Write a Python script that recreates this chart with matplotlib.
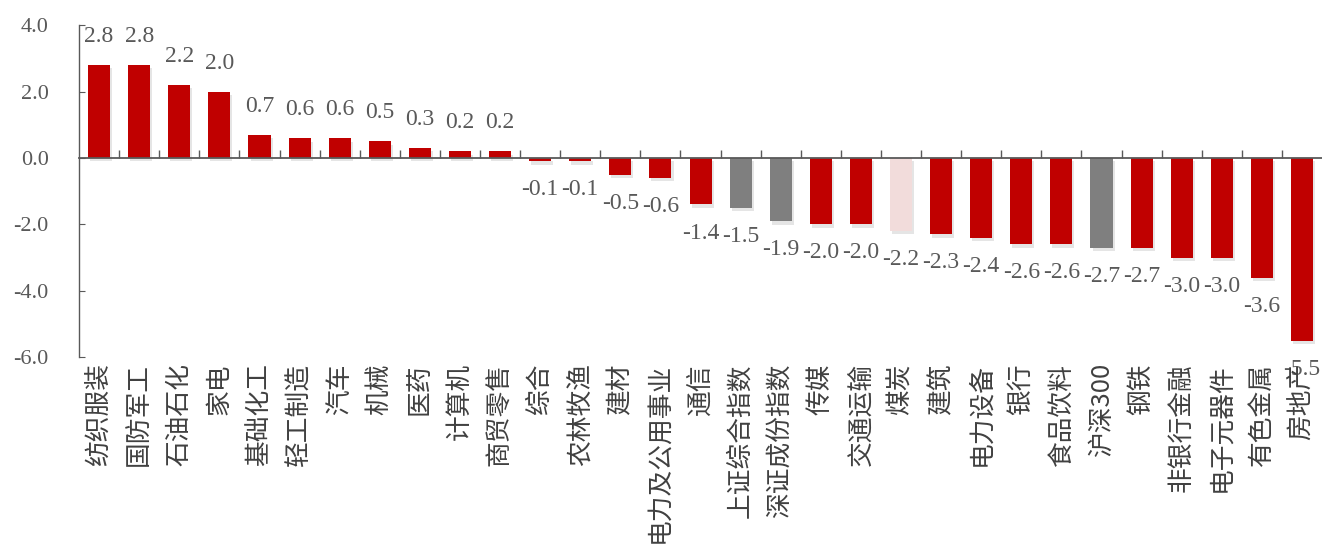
import matplotlib
matplotlib.use("Agg")
import matplotlib.pyplot as plt
import matplotlib.patheffects as pe
from matplotlib.transforms import blended_transform_factory, offset_copy

# weekly change by sector / index, %
names = ["纺织服装", "国防军工", "石油石化", "家电", "基础化工", "轻工制造", "汽车", "机械",
         "医药", "计算机", "商贸零售", "综合", "农林牧渔", "建材", "电力及公用事业", "通信",
         "上证综合指数", "深证成份指数", "传媒", "交通运输", "煤炭", "建筑", "电力设备", "银行",
         "食品饮料", "沪深300", "钢铁", "非银行金融", "电子元器件", "有色金属", "房地产"]
values = [2.8, 2.8, 2.2, 2.0, 0.7, 0.6, 0.6, 0.5, 0.3, 0.2, 0.2, -0.1, -0.1, -0.5, -0.6, -1.4,
          -1.5, -1.9, -2.0, -2.0, -2.2, -2.3, -2.4, -2.6, -2.6, -2.7, -2.7, -3.0, -3.0, -3.6, -5.5]
index_names = ["上证综合指数", "深证成份指数", "沪深300"]
highlight = ["煤炭"]
yticks = [4.0, 2.0, 0.0, -2.0, -4.0, -6.0]

RED = "#C00000"
GRAY = "#7F7F7F"
PINK = "#F2DCDB"
TXT = "#595959"
serif = "Liberation Serif"
cjk = ["Noto Sans CJK SC", "DejaVu Sans"]

colors = []
for n in names:
    if n in index_names:
        colors.append(GRAY)
    elif n in highlight:
        colors.append(PINK)
    else:
        colors.append(RED)

fig = plt.figure(figsize=(13.22, 5.59), dpi=100)
ax = fig.add_axes([0.0598, 0.361, 0.9402, 0.594])

x = list(range(len(names)))
bars = ax.bar(x, values, width=0.55, color=colors, zorder=2)
for b in bars:
    b.set_path_effects([pe.SimplePatchShadow(offset=(1.5, -2.5), shadow_rgbFace="#000000", alpha=0.1),
                        pe.Normal()])

ax.set_xlim(-0.5, len(names) - 0.5)
ax.set_ylim(-6, 4)

# value labels
for xi, v in zip(x, values):
    off = 13 if v >= 0 else -13
    ax.annotate(f"{v:.1f}", (xi, v), xytext=(0, off), textcoords="offset points",
                ha="center", va="bottom" if v >= 0 else "top",
                fontsize=17, color=TXT, family=serif)

# spines
for s in ["top", "right"]:
    ax.spines[s].set_visible(False)
ax.spines["bottom"].set_position(("data", 0))
ax.spines["bottom"].set_color("#595959")
ax.spines["left"].set_color("#595959")
ax.spines["bottom"].set_linewidth(1.3)
ax.spines["left"].set_linewidth(1.0)

ax.set_yticks(yticks)
ax.set_yticklabels([f"{t:.1f}" for t in yticks], family=serif, fontsize=16, color=TXT)
ax.tick_params(axis="y", direction="in", length=4, color="#595959", pad=22)

# category boundaries as ticks on the zero line
ax.set_xticks([i + 0.5 for i in x[:-1]])
ax.set_xticklabels([])
ax.tick_params(axis="x", direction="in", length=6, color="#595959", width=1.0)

# category labels below the plot
trans = offset_copy(blended_transform_factory(ax.transData, ax.transAxes),
                    fig=fig, x=0, y=-6, units="dots")
for xi, n in zip(x, names):
    ax.text(xi, 0, n, transform=trans, rotation=90, ha="center", va="top",
            fontsize=18.5, color="#404040", family=cjk)

fig.savefig("out.png", dpi=100)
